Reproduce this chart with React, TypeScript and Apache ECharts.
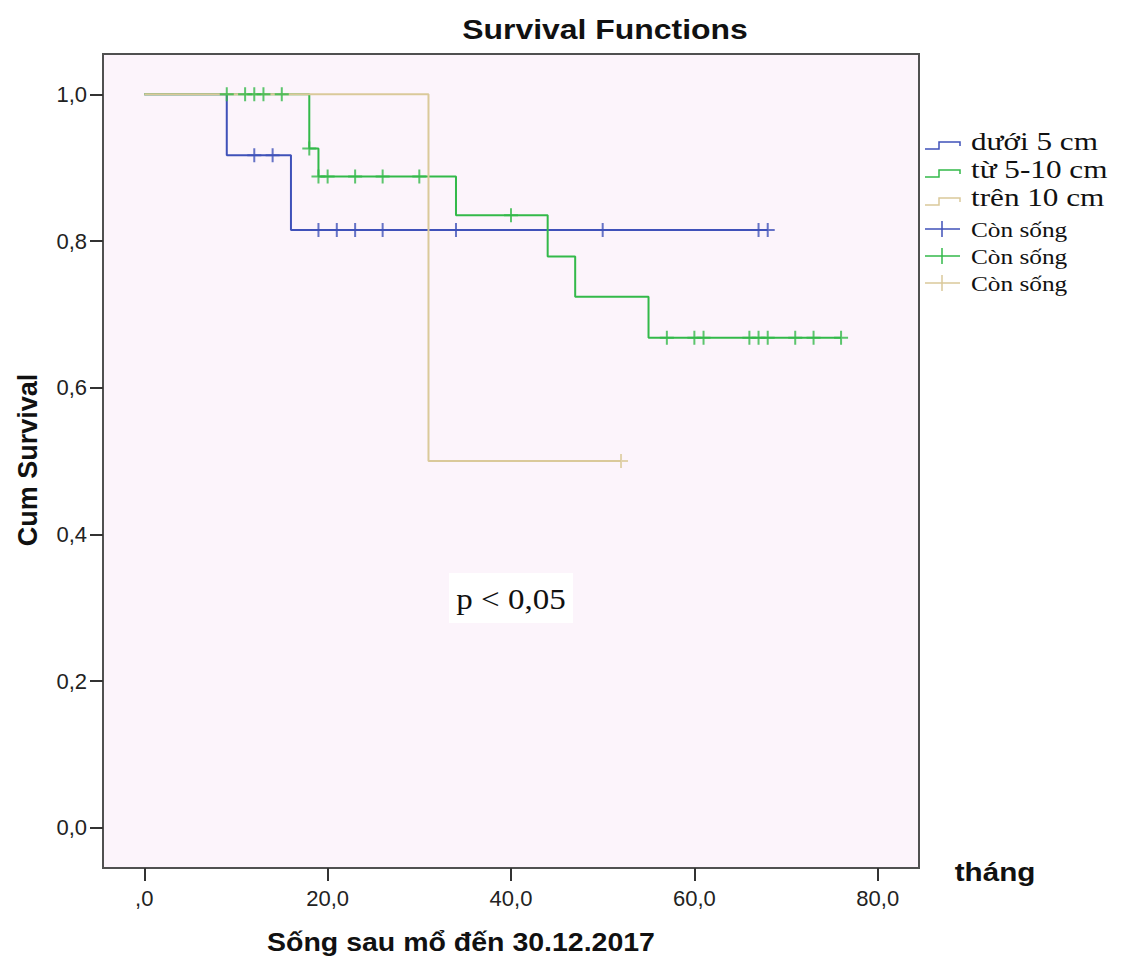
import React, { useEffect, useRef } from "react";
import * as echarts from "echarts";

// Kaplan–Meier step points [months, cumulative survival] per tumour size group
const groupNames = ["dưới 5 cm", "từ 5-10 cm", "trên 10 cm"];
const censorName = "Còn sống";

const under5Steps: [number, number][] = [
  [0, 1.0], [9, 0.917], [16, 0.815], [68, 0.815],
];
const under5Censored: [number, number][] = [
  [12, 0.917], [14, 0.917],
  [19, 0.815], [21, 0.815], [23, 0.815], [26, 0.815], [34, 0.815], [50, 0.815], [67, 0.815], [68, 0.815],
];

const mid5to10Steps: [number, number][] = [
  [0, 1.0], [18, 0.926], [19, 0.888], [34, 0.835], [44, 0.779], [47, 0.724], [55, 0.668], [76, 0.668],
];
const mid5to10Censored: [number, number][] = [
  [9, 1.0], [11, 1.0], [12, 1.0], [13, 1.0], [15, 1.0],
  [18, 0.926],
  [19, 0.888], [20, 0.888], [23, 0.888], [26, 0.888], [30, 0.888],
  [40, 0.835],
  [57, 0.668], [60, 0.668], [61, 0.668], [66, 0.668], [67, 0.668], [68, 0.668], [71, 0.668], [73, 0.668], [76, 0.668],
];

const over10Steps: [number, number][] = [
  [0, 1.0], [31, 0.5], [52, 0.5],
];
const over10Censored: [number, number][] = [[52, 0.5]];

const xTicks = [0, 20, 40, 60, 80];
const yTicks = [0, 0.2, 0.4, 0.6, 0.8, 1.0];

const COLORS = ["#3f51b9", "#33b94a", "#dac99a"];

const PLUS = "path://M7,0L7,14M0,7L14,7";

const fmtComma = (v: number, leadingZero: boolean) => {
  const s = v.toFixed(1).replace(".", ",");
  if (!leadingZero && Math.abs(v) < 1e-9) return ",0";
  return s;
};

export default function App() {
  const ref = useRef<HTMLDivElement>(null);

  useEffect(() => {
    if (!ref.current) return;
    const chart = echarts.init(ref.current, undefined, { renderer: "svg" });

    const stepSeries = [under5Steps, mid5to10Steps, over10Steps].map((d, i) => ({
      name: groupNames[i],
      type: "line" as const,
      step: "end" as const,
      data: d,
      symbol: "none",
      lineStyle: { color: COLORS[i], width: 2 },
      z: 2 + (i === 2 ? 1 : 0),
      silent: true,
    }));

    const censorSeries = [under5Censored, mid5to10Censored, over10Censored].map((d, i) => ({
      name: censorName + " " + (i + 1),
      type: "scatter" as const,
      data: d,
      symbol: PLUS,
      symbolSize: 14,
      itemStyle: { color: "transparent", borderColor: COLORS[i], borderWidth: 2 },
      z: 5,
      silent: true,
    }));

    // legend drawn as graphics: step icons for curves, crosses for censored marks
    const legendRows = [
      { y: 146, kind: "step", text: groupNames[0], color: COLORS[0], big: true },
      { y: 174, kind: "step", text: groupNames[1], color: COLORS[1], big: true },
      { y: 202, kind: "step", text: groupNames[2], color: COLORS[2], big: true },
      { y: 229, kind: "plus", text: censorName, color: COLORS[0], big: false },
      { y: 256, kind: "plus", text: censorName, color: COLORS[1], big: false },
      { y: 283, kind: "plus", text: censorName, color: COLORS[2], big: false },
    ];
    const legendGraphics: any[] = [];
    legendRows.forEach((r) => {
      if (r.kind === "step") {
        legendGraphics.push({
          type: "polyline",
          shape: { points: [[925, r.y + 3], [939, r.y + 3], [939, r.y - 4], [960, r.y - 4], [960, r.y]] },
          style: { stroke: r.color, lineWidth: 1.5, fill: null },
        });
      } else {
        legendGraphics.push({
          type: "line",
          shape: { x1: 925, y1: r.y, x2: 960, y2: r.y },
          style: { stroke: r.color, lineWidth: 1.5 },
        });
        legendGraphics.push({
          type: "line",
          shape: { x1: 942, y1: r.y - 8, x2: 942, y2: r.y + 8 },
          style: { stroke: r.color, lineWidth: 1.5 },
        });
      }
      legendGraphics.push({
        type: "text",
        x: 971,
        y: r.big ? r.y - 5 : r.y + 1,
        scaleX: r.big ? 1.2 : 1.15,
        style: {
          text: r.text,
          font: r.big ? "26px 'Liberation Serif', 'Times New Roman', serif" : "22px 'Liberation Serif', 'Times New Roman', serif",
          fill: "#111",
          textAlign: "left",
          textVerticalAlign: "middle",
        },
      });
    });

    const option: any = {
      animation: false,
      backgroundColor: "#ffffff",
      grid: {
        left: 103,
        top: 54,
        width: 816,
        height: 814,
        show: true,
        backgroundColor: "#fcf4fb",
        borderColor: "#505050",
        borderWidth: 2,
        containLabel: false,
      },
      xAxis: {
        type: "value",
        min: -4.5,
        max: 84.5,
        splitLine: { show: false },
        axisLine: { show: false, onZero: false },
        axisTick: {
          show: true,
          customValues: xTicks,
          length: 13,
          lineStyle: { color: "#333", width: 2 },
        },
        axisLabel: {
          customValues: xTicks,
          margin: 19,
          color: "#222",
          fontFamily: "'Liberation Sans', Arial, sans-serif",
          fontSize: 22,
          formatter: (v: number) => fmtComma(v, false),
        },
      },
      yAxis: {
        type: "value",
        min: -0.055,
        max: 1.055,
        splitLine: { show: false },
        axisLine: { show: false, onZero: false },
        axisTick: {
          show: true,
          customValues: yTicks,
          length: 13,
          lineStyle: { color: "#333", width: 2 },
        },
        axisLabel: {
          customValues: yTicks,
          margin: 16,
          color: "#222",
          fontFamily: "'Liberation Sans', Arial, sans-serif",
          fontSize: 22,
          formatter: (v: number) => fmtComma(v, true),
        },
      },
      series: [...stepSeries, ...censorSeries],
      graphic: [
        {
          type: "text",
          x: 605,
          y: 29,
          scaleX: 1.14,
          style: {
            text: "Survival Functions",
            font: "bold 28px 'Liberation Sans', Arial, sans-serif",
            fill: "#111",
            textAlign: "center",
            textVerticalAlign: "middle",
          },
        },
        {
          type: "text",
          x: 28,
          y: 460,
          rotation: Math.PI / 2,
          style: {
            text: "Cum Survival",
            font: "bold 27px 'Liberation Sans', Arial, sans-serif",
            fill: "#111",
            textAlign: "center",
            textVerticalAlign: "middle",
          },
        },
        {
          type: "text",
          x: 461,
          y: 943,
          scaleX: 1.14,
          style: {
            text: "Sống sau mổ đến 30.12.2017",
            font: "bold 25px 'Liberation Sans', Arial, sans-serif",
            fill: "#111",
            textAlign: "center",
            textVerticalAlign: "middle",
          },
        },
        {
          type: "text",
          x: 995,
          y: 872,
          scaleX: 1.14,
          style: {
            text: "tháng",
            font: "bold 26px 'Liberation Sans', Arial, sans-serif",
            fill: "#111",
            textAlign: "center",
            textVerticalAlign: "middle",
          },
        },
        {
          type: "rect",
          shape: { x: 449, y: 573, width: 124, height: 50 },
          style: { fill: "#ffffff" },
          z: 10,
        },
        {
          type: "text",
          x: 511,
          y: 599,
          scaleX: 1.1,
          z: 11,
          style: {
            text: "p < 0,05",
            font: "30px 'Liberation Serif', 'Times New Roman', serif",
            fill: "#111",
            textAlign: "center",
            textVerticalAlign: "middle",
          },
        },
        ...legendGraphics,
      ],
    };

    chart.setOption(option);
    return () => chart.dispose();
  }, []);

  return (
    <div
      ref={ref}
      style={{ position: "fixed", left: 0, top: 0, width: 1133, height: 961, background: "#fff" }}
    />
  );
}
